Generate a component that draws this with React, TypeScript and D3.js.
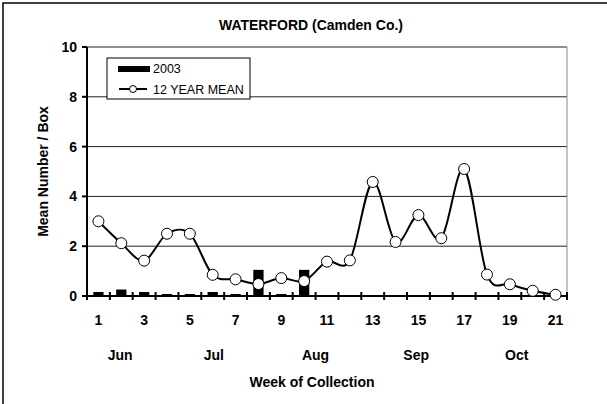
import React from 'react';
import * as d3 from 'd3';

const weeks = d3.range(1, 22);
const mean12 = [3.0, 2.12, 1.42, 2.5, 2.5, 0.85, 0.67, 0.48, 0.72, 0.6, 1.38, 1.43, 4.58, 2.17, 3.25, 2.32, 5.1, 0.86, 0.47, 0.21, 0.05];
const y2003 = [0.16, 0.26, 0.16, 0.08, 0.08, 0.16, 0.08, 1.05, 0.08, 1.05, 0, 0, 0, 0, 0, 0, 0, 0, 0, 0, 0];
const yTicks = [0, 2, 4, 6, 8, 10];
const xTickLabels = [1, 3, 5, 7, 9, 11, 13, 15, 17, 19, 21];
const months = ['Jun', 'Jul', 'Aug', 'Sep', 'Oct'];
const monthWeeks = [1.95, 6.05, 10.5, 14.9, 19.3];

const font = 'Arial, "Liberation Sans", Helvetica, sans-serif';

export default function App() {
  const width = 607;
  const height = 404;
  const margin = { top: 47, right: 40, bottom: 108, left: 87 };
  const plotW = width - margin.left - margin.right;
  const plotH = height - margin.top - margin.bottom;

  const x = d3.scaleBand<number>().domain(weeks).range([0, plotW]).padding(0);
  const y = d3.scaleLinear().domain([0, 10]).range([plotH, 0]);
  const bw = x.bandwidth();
  const cx = (w: number) => (x(w) ?? 0) + bw / 2;
  // fractional week position for month labels
  const wx = (w: number) => (w - 1) * bw + bw / 2;

  const line = d3
    .line<number>()
    .x((_, i) => cx(weeks[i]))
    .y(d => y(d))
    .curve(d3.curveCardinal.tension(0));

  const barW = bw * 0.45;
  const boundaries = d3.range(0, weeks.length + 1).map(i => i * bw);

  return (
    <svg width={width} height={height} style={{ position: 'absolute', left: 0, top: 0, background: '#fff' }} fontFamily={font}>
      <rect x={3} y={3} width={width + 10} height={height + 10} fill="#fff" stroke="#000" strokeWidth={1.5} />
      <text x={311} y={30} textAnchor="middle" fontWeight="bold" fontSize={14}>WATERFORD (Camden Co.)</text>

      <g transform={`translate(${margin.left},${margin.top})`}>
        {/* gridlines */}
        {yTicks.filter(t => t > 0).map(t => (
          <line key={t} x1={0} x2={plotW} y1={y(t)} y2={y(t)} stroke="#222" strokeWidth={1} />
        ))}
        <line x1={plotW} x2={plotW} y1={0} y2={plotH} stroke="#888" strokeWidth={1} />

        {/* bars 2003 */}
        {y2003.map((v, i) => (
          <rect key={i} x={cx(weeks[i]) - barW / 2} y={y(v)} width={barW} height={plotH - y(v)} fill="#000" />
        ))}

        {/* axes */}
        <line x1={0} x2={0} y1={0} y2={plotH} stroke="#000" strokeWidth={2} />
        {yTicks.map(t => (
          <g key={t}>
            <line x1={-5} x2={0} y1={y(t)} y2={y(t)} stroke="#000" strokeWidth={2} />
            <text x={-10} y={y(t)} dy="0.36em" textAnchor="end" fontWeight="bold" fontSize={14}>{t}</text>
          </g>
        ))}
        <line x1={0} x2={plotW} y1={plotH} y2={plotH} stroke="#000" strokeWidth={2} />
        {boundaries.map((b, i) => (
          <line key={i} x1={b} x2={b} y1={plotH - 4} y2={plotH + 4} stroke="#000" strokeWidth={2} />
        ))}
        {xTickLabels.map(w => (
          <text key={w} x={cx(w)} y={plotH + 29} textAnchor="middle" fontWeight="bold" fontSize={14}>{w}</text>
        ))}
        {months.map((m, i) => (
          <text key={m} x={wx(monthWeeks[i])} y={plotH + 64} textAnchor="middle" fontWeight="bold" fontSize={14}>{m}</text>
        ))}

        {/* 12 year mean */}
        <path d={line(mean12) ?? ''} fill="none" stroke="#000" strokeWidth={2} />
        {mean12.map((v, i) => (
          <circle key={i} cx={cx(weeks[i])} cy={y(v)} r={5.5} fill="#fff" stroke="#000" strokeWidth={1} />
        ))}

        {/* legend */}
        <g transform="translate(20,11)">
          <rect x={0} y={0} width={143} height={41} fill="#fff" stroke="#000" strokeWidth={1} />
          <rect x={11} y={8} width={32} height={6} fill="#000" />
          <text x={46} y={15} fontSize={12.5}>2003</text>
          <line x1={12} x2={40} y1={31} y2={31} stroke="#000" strokeWidth={2} />
          <circle cx={26} cy={31} r={3.5} fill="#fff" stroke="#000" strokeWidth={1} />
          <text x={46} y={35.5} fontSize={12.5}>12 YEAR MEAN</text>
        </g>
      </g>

      <text x={312} y={387} textAnchor="middle" fontWeight="bold" fontSize={14}>Week of Collection</text>
      <text transform={`translate(48,${margin.top + plotH / 2}) rotate(-90)`} textAnchor="middle" fontWeight="bold" fontSize={14}>Mean Number / Box</text>
    </svg>
  );
}
